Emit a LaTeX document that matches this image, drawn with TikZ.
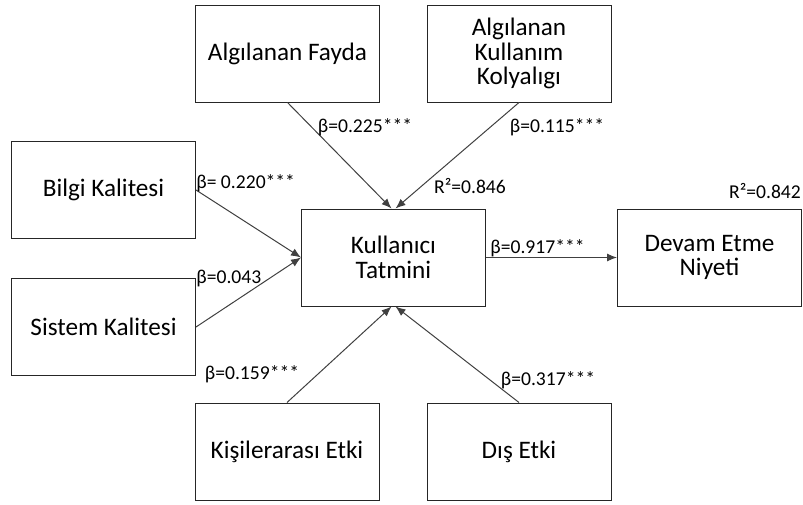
\documentclass[tikz,border=0pt]{standalone}
\usepackage{fontspec}
\setmainfont{Carlito}
\usetikzlibrary{arrows.meta}

\tikzset{
  box/.style={rectangle, draw=black!85, line width=0.5pt, minimum width=92pt, minimum height=48.5pt,
    align=center, inner sep=2pt, font=\fontsize{12.6}{12.2}\selectfont},
  coef/.style={inner sep=0pt, font=\fontsize{9.8}{11}\selectfont},
  arr/.style={-{Latex[length=5pt,width=4pt]}, draw=black!75, line width=0.5pt}
}

\begin{document}
\begin{tikzpicture}[x=0.5pt, y=-0.5pt]
\useasboundingbox (0,0) rectangle (803,504);

% Constructs
\node[box] (fayda) at (287.5,53.5) {Algılanan Fayda};
\node[box] (kolay) at (519,53.5) {Algılanan\\Kullanım\\Kolyalıgı};
\node[box] (bilgi) at (103.5,190) {Bilgi Kalitesi};
\node[box] (sistem) at (103.5,327) {Sistem Kalitesi};
\node[box] (tatmin) at (393.5,257.5) {Kullanıcı\\Tatmini};
\node[box] (devam) at (709.5,257.5) {Devam Etme\\Niyeti};
\node[box] (kisi) at (287,451.5) {Kişilerarası Etki};
\node[box] (dis) at (519,451.5) {Dış Etki};

% Paths
\draw[arr] (fayda.south) -- ([xshift=-1pt]tatmin.north);
\draw[arr] (kolay.south) -- ([xshift=1pt]tatmin.north);
\draw[arr] (bilgi.east) -- (tatmin.west);
\draw[arr] (sistem.east) -- (tatmin.west);
\draw[arr] (tatmin.east) -- (devam.west);
\draw[arr] (kisi.north) -- ([xshift=-1pt]tatmin.south);
\draw[arr] (dis.north) -- ([xshift=1pt]tatmin.south);

% Coefficients
\node[coef] (bfayda) at (365,127) {β=0.225***};
\node[coef] (bkolay) at (557,127) {β=0.115***};
\node[coef, anchor=west] (bbilgi) at (196,183) {β= 0.220***};
\node[coef, anchor=west] (bsistem) at (196,278) {β=0.043};
\node[coef] (bkisi) at (252,374) {β=0.159***};
\node[coef] (bdis) at (548,380) {β=0.317***};
\node[coef, anchor=west] (btatmin) at (490,248) {β=0.917***};
\node[coef] (rtatmin) at (470,186) {R²=0.846};
\node[coef] (rdevam) at (765,191) {R²=0.842};

\end{tikzpicture}
\end{document}
